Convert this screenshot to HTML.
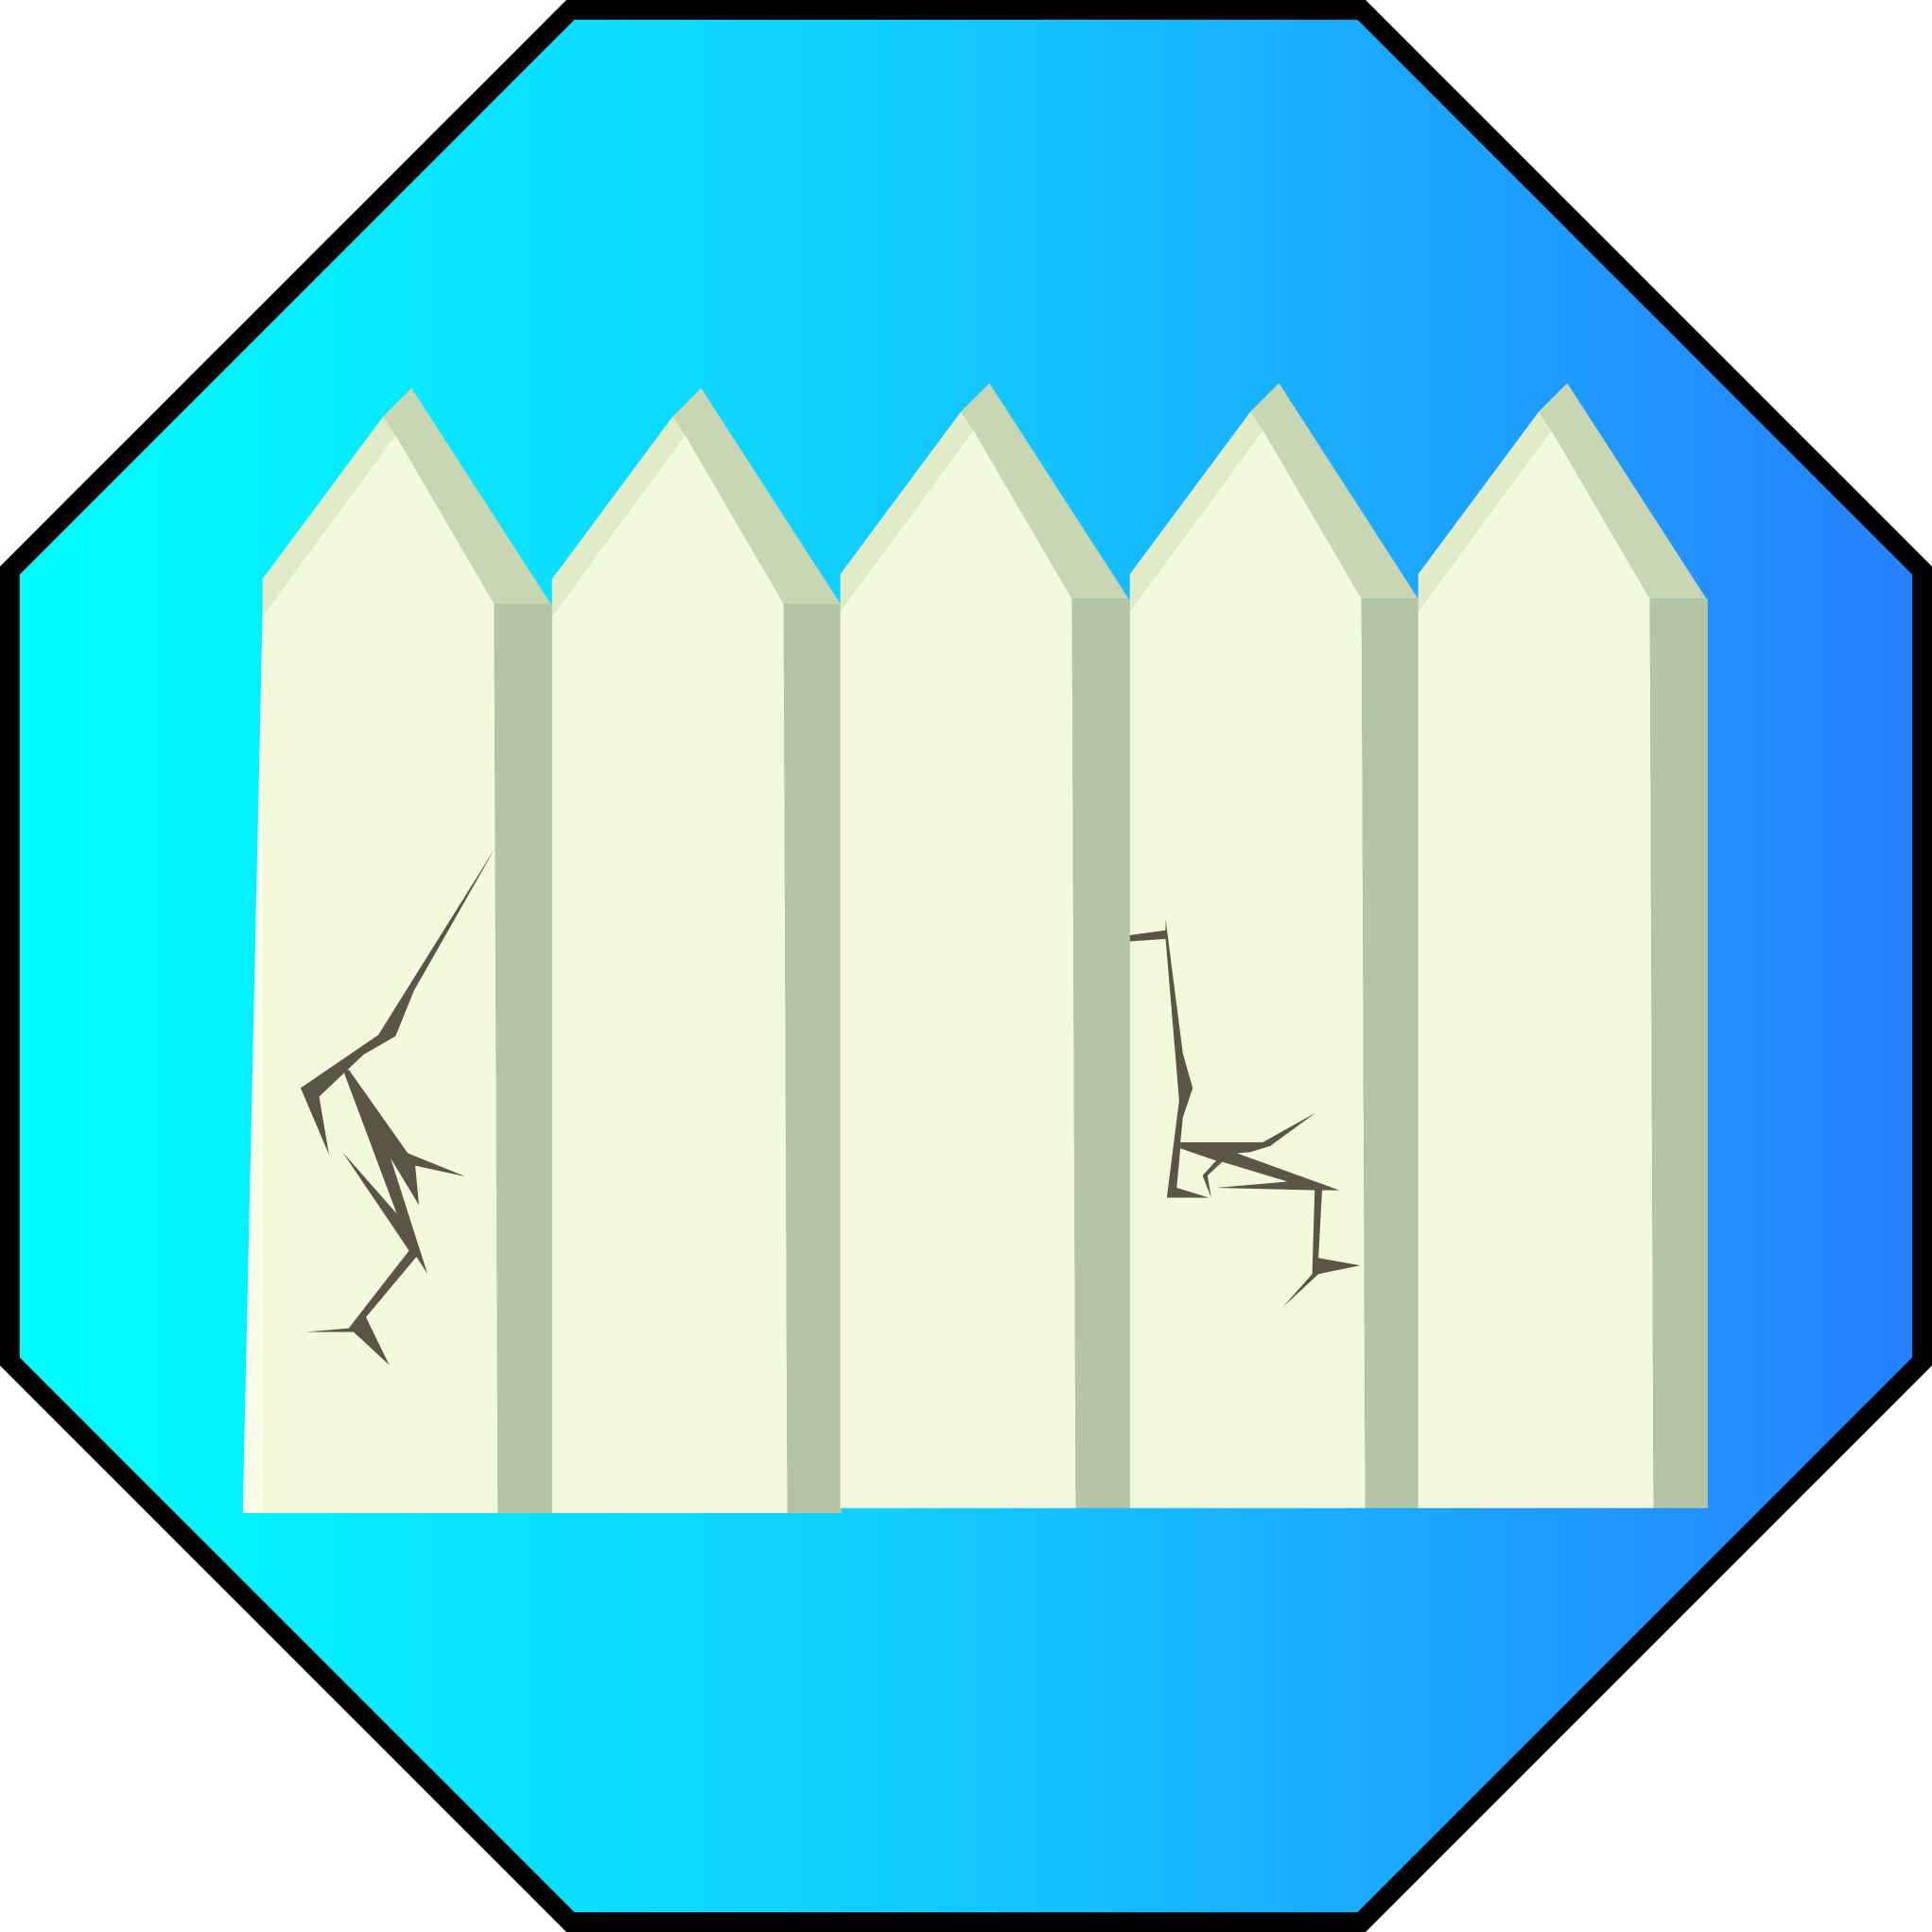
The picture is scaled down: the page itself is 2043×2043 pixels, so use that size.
<!DOCTYPE html>
<html><head><meta charset="utf-8"><style>html,body{margin:0;padding:0;background:#fff}svg{display:block}</style></head>
<body>
<svg width="2043" height="2043" viewBox="0 0 1568 1568" xmlns="http://www.w3.org/2000/svg">
<defs>
<linearGradient id="bg" x1="0" y1="0" x2="1" y2="0">
<stop offset="0" stop-color="#00ffff"/><stop offset="0.5" stop-color="#12c8ff"/><stop offset="1" stop-color="#2680ff"/>
</linearGradient>
<g id="picket">
<polygon points="213,500 321,353 401,490 404,1228 213,1228" fill="#f3fadb"/>
<polygon points="213,470 311,338 321,353 213,500" fill="#e0ebc7"/>
<polygon points="311,338 334,315 447,490 401,490 321,353" fill="#c9d6b4"/>
<polygon points="401,490 448,490 448,1228 404,1228" fill="#b3c5a5"/>
</g>
</defs>
<polygon points="463,8 1105,8 1560,463 1560,1105 1105,1560 463,1560 8,1105 8,463" fill="url(#bg)" stroke="#000" stroke-width="16"/>
<polygon points="197,1228 213,500 213,1228" fill="#fbfde9"/>
<use href="#picket"/>
<use href="#picket" transform="translate(235,0)"/>
<use href="#picket" transform="translate(469,-4)"/>
<use href="#picket" transform="translate(704,-4)"/>
<use href="#picket" transform="translate(938,-4)"/>
<g fill="#5b5548">
<polygon points="402,688 336,804 321,841 295,856 259,890 267,937 244,883 307,840"/>
<polygon points="279,870 283,868 331,936 378,955 337,946 340,978 317,940 347,1034 338,1020 297,1069 316,1108 287,1081 248,1081 283,1078 332,1015 278,935 322,985"/>
</g>
<g fill="#5b5548">
<polygon points="917,759 946,755 946,746 960,855 968,883 960,907 958,927 1025,927 1068,903 1031,930 1015,935 1004,936 1087,966 1073,966 1070,1021 1104,1027 1070,1034 1041,1061 1065,1034 1067,966 987,964 1045,959 992,943 980,954 983,972 976,954 987,942 958,932 955,964 981,972 947,972 957,893 946,762 917,764"/>
</g>
</svg>
</body></html>
